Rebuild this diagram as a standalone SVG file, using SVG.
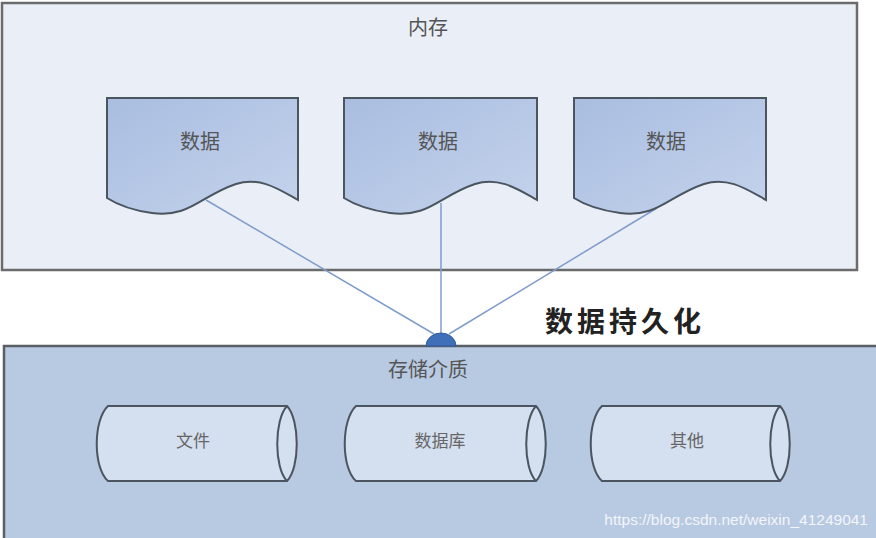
<svg xmlns="http://www.w3.org/2000/svg" width="876" height="538" viewBox="0 0 876 538">
<defs>
<linearGradient id="docg" x1="0" y1="0" x2="1" y2="1">
<stop offset="0" stop-color="#a9bde0"/>
<stop offset="1" stop-color="#c4d3ec"/>
</linearGradient>
<style>
.t{font-family:"Liberation Serif","Noto Sans CJK SC",serif;fill:#555;font-size:20px;text-anchor:middle}
.s{font-family:"Liberation Serif","Noto Sans CJK SC",serif;fill:#666;font-size:17px;text-anchor:middle}
.doc{fill:url(#docg);stroke:#4a5560;stroke-width:2}
.cyl{fill:#d4dfef;stroke:#4a5560;stroke-width:2}
.con{stroke:#7f9ccc;stroke-width:1.5;fill:none}
</style>
</defs>
<rect width="876" height="538" fill="#ffffff"/>
<g id="memory">
<rect x="2" y="3" width="855" height="267" fill="#e9eef7" stroke="#6b6b6b" stroke-width="2.5"/>
<text class="t" x="428" y="35">内存</text>
</g>
<g id="storage">
<rect x="4" y="346" width="874" height="196" fill="#b8c9e2" stroke="#5a5f66" stroke-width="2.5"/>
<text class="t" x="428" y="377">存储介质</text>
</g>
<g id="connectors">
<line class="con" x1="206" y1="200" x2="434" y2="334"/>
<line class="con" x1="441" y1="203" x2="441" y2="334"/>
<line class="con" x1="657" y1="208" x2="449" y2="334"/>
<path d="M426 346 A15 13 0 0 1 456 346 Z" fill="#3f6fb8" stroke="#2f5a9e" stroke-width="1"/>
</g>
<g id="doc1">
<path class="doc" d="M107 98 H298 V200 C280 190 260 176 236 184 C200 196 190 218 152 213 C130 210 118 205 107 198 Z"/>
<text class="t" x="200" y="149">数据</text>
</g>
<g id="doc2">
<path class="doc" d="M344 98 H537 V200 C519 190 499 176 475 184 C439 196 429 218 390 213 C368 210 355 205 344 198 Z"/>
<text class="t" x="438" y="149">数据</text>
</g>
<g id="doc3">
<path class="doc" d="M574 98 H766 V200 C748 190 728 176 704 184 C668 196 658 218 620 213 C598 210 585 205 574 198 Z"/>
<text class="t" x="666" y="149">数据</text>
</g>
<g id="persist">
<text x="545" y="332" font-family="'Noto Sans CJK SC',sans-serif" font-size="28" font-weight="bold" letter-spacing="4" fill="#222">数据持久化</text>
</g>
<g id="cyl1">
<path class="cyl" d="M108 406 H287 C300 420 300 468 287 481 H108 C93 468 93 420 108 406 Z"/>
<path class="cyl" d="M287 406 C274 420 274 468 287 481"/>
<text class="s" x="193" y="447">文件</text>
</g>
<g id="cyl2">
<path class="cyl" d="M356 406 H536 C549 420 549 468 536 481 H356 C341 468 341 420 356 406 Z"/>
<path class="cyl" d="M536 406 C523 420 523 468 536 481"/>
<text class="s" x="440" y="447">数据库</text>
</g>
<g id="cyl3">
<path class="cyl" d="M602 406 H780 C793 420 793 468 780 481 H602 C587 468 587 420 602 406 Z"/>
<path class="cyl" d="M780 406 C767 420 767 468 780 481"/>
<text class="s" x="687" y="447">其他</text>
</g>
<text x="868" y="525" text-anchor="end" font-family="'Liberation Sans',Arial,sans-serif" font-size="15.5" fill="#f2f5fa">https://blog.csdn.net/weixin_41249041</text>
</svg>
